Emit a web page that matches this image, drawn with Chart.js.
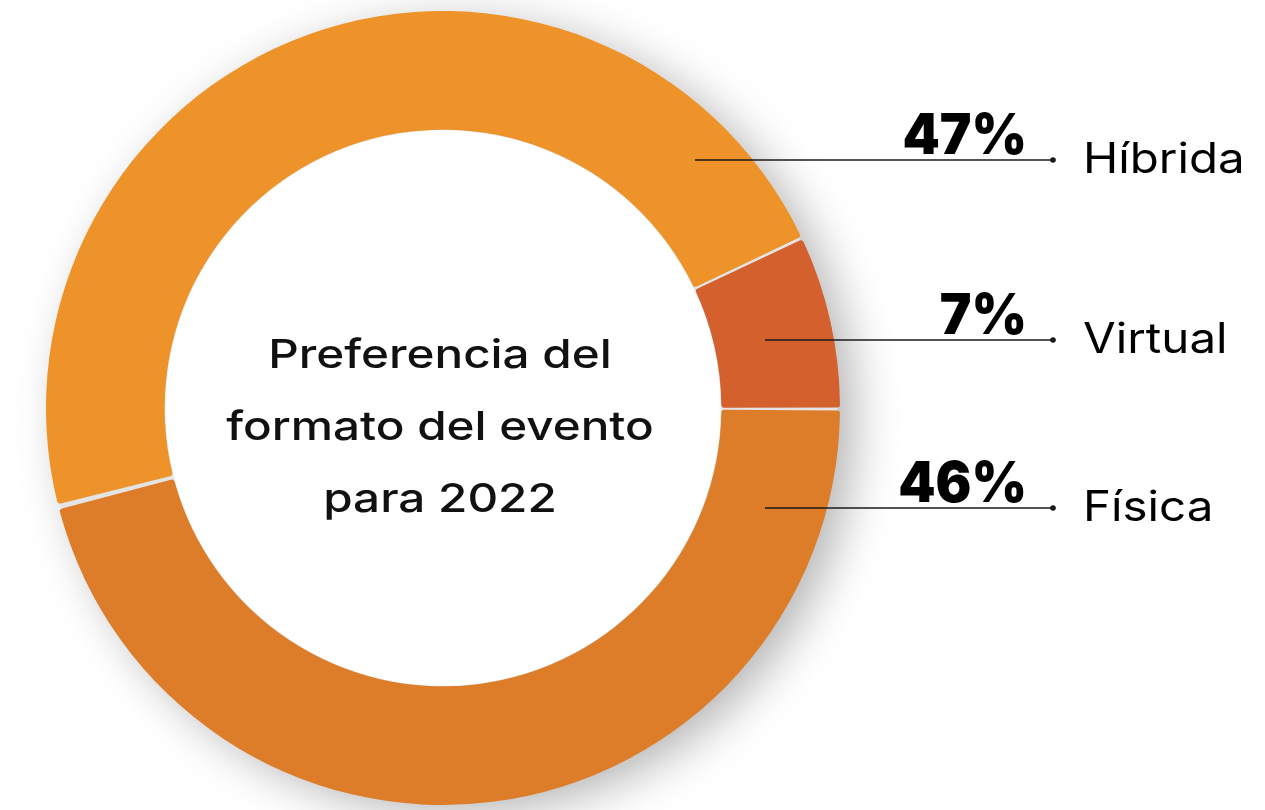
<!DOCTYPE html>
<html lang="es">
<head>
<meta charset="utf-8">
<title>Preferencia del formato del evento para 2022</title>
<script src="https://cdn.jsdelivr.net/npm/chart.js@4.4.1/dist/chart.umd.min.js"></script>
<style>
  html, body { margin: 0; padding: 0; background: #ffffff; }
  #wrap { width: 1265px; height: 810px; position: relative; }
</style>
</head>
<body>
<div id="wrap"><canvas id="formatChart" width="1265" height="810"></canvas></div>
<script>
// Datos de la encuesta
const categories = ['Física', 'Híbrida', 'Virtual'];
const shares = [46, 47, 7];
const sliceColors = ['#DE7D29', '#EE922A', '#D4602D'];
const centerLines = ['Preferencia del', 'formato del evento', 'para 2022'];

// Posición de cada rótulo (de arriba a abajo) y dónde arranca su línea
const calloutLayout = [
  { name: 'Híbrida', y: 160, startX: 695 },
  { name: 'Virtual', y: 340, startX: 765 },
  { name: 'Física', y: 508, startX: 765 }
];
const lineEndX = 1053;
const pctRightX = 1027;
const nameLeftX = 1083;

// Texto con un ensanchado horizontal (la fuente de marca es más ancha)
function wideText(ctx, text, x, y, sx) {
  ctx.save();
  ctx.translate(x, y);
  ctx.scale(sx, 1);
  ctx.fillText(text, 0, 0);
  ctx.restore();
}

// Sombra difusa detrás del anillo y fondo gris de las separaciones
const ringBackdrop = {
  id: 'ringBackdrop',
  beforeDatasetsDraw(chart) {
    const arc = chart.getDatasetMeta(0).data[0];
    if (!arc) return;
    const { x, y, outerRadius, innerRadius } = arc.getProps(['x', 'y', 'outerRadius', 'innerRadius'], true);
    const ctx = chart.ctx;
    ctx.save();
    ctx.shadowColor = 'rgba(0, 0, 0, 0.3)';
    ctx.shadowBlur = 48;
    ctx.shadowOffsetX = 16;
    ctx.shadowOffsetY = 10;
    ctx.fillStyle = '#e4e4e4';
    ctx.beginPath();
    ctx.arc(x, y, outerRadius - 1, 0, Math.PI * 2);
    ctx.fill();
    ctx.restore();
    ctx.save();
    ctx.fillStyle = '#ffffff';
    ctx.beginPath();
    ctx.arc(x, y, innerRadius + 1, 0, Math.PI * 2);
    ctx.fill();
    ctx.restore();
  }
};

// Título dentro del agujero del anillo
const centerTitle = {
  id: 'centerTitle',
  afterDatasetsDraw(chart) {
    const arc = chart.getDatasetMeta(0).data[0];
    if (!arc) return;
    const { x, y } = arc.getProps(['x', 'y'], true);
    const ctx = chart.ctx;
    ctx.save();
    ctx.fillStyle = '#111111';
    ctx.font = '500 40px "Inter", "Noto Sans", sans-serif';
    ctx.textAlign = 'center';
    ctx.textBaseline = 'middle';
    centerLines.forEach((line, i) => {
      wideText(ctx, line, x - 3, y + 20 + (i - 1) * 72, 1.19);
    });
    ctx.restore();
  }
};

// Líneas guía con porcentaje y nombre de cada formato
const callouts = {
  id: 'callouts',
  afterDraw(chart) {
    const ctx = chart.ctx;
    ctx.save();
    calloutLayout.forEach(item => {
      const idx = categories.indexOf(item.name);
      const value = shares[idx];

      ctx.strokeStyle = '#1a1a1a';
      ctx.lineWidth = 1.6;
      ctx.beginPath();
      ctx.moveTo(item.startX, item.y);
      ctx.lineTo(lineEndX, item.y);
      ctx.stroke();

      ctx.fillStyle = '#1a1a1a';
      ctx.beginPath();
      ctx.arc(lineEndX, item.y, 2.8, 0, Math.PI * 2);
      ctx.fill();

      ctx.fillStyle = '#000000';
      ctx.font = '900 56px "Inter", "Lato", sans-serif';
      ctx.textAlign = 'right';
      ctx.textBaseline = 'alphabetic';
      wideText(ctx, value + '%', pctRightX, item.y - 6, 0.95);

      ctx.font = '400 42px "Inter", "Noto Sans", sans-serif';
      ctx.textAlign = 'left';
      ctx.textBaseline = 'middle';
      wideText(ctx, item.name, nameLeftX, item.y, 1.13);
    });
    ctx.restore();
  }
};

const ctx = document.getElementById('formatChart').getContext('2d');
new Chart(ctx, {
  type: 'doughnut',
  data: {
    labels: categories,
    datasets: [{
      data: shares,
      backgroundColor: sliceColors,
      borderWidth: 0,
      spacing: 3,
      borderRadius: 3,
      hoverOffset: 0
    }]
  },
  options: {
    responsive: false,
    animation: false,
    rotation: 90,
    cutout: '70%',
    layout: { padding: { left: 46, right: 425, top: 11, bottom: 5 } },
    plugins: {
      legend: { display: false },
      tooltip: { enabled: false }
    }
  },
  plugins: [ringBackdrop, centerTitle, callouts]
});
</script>
</body>
</html>
